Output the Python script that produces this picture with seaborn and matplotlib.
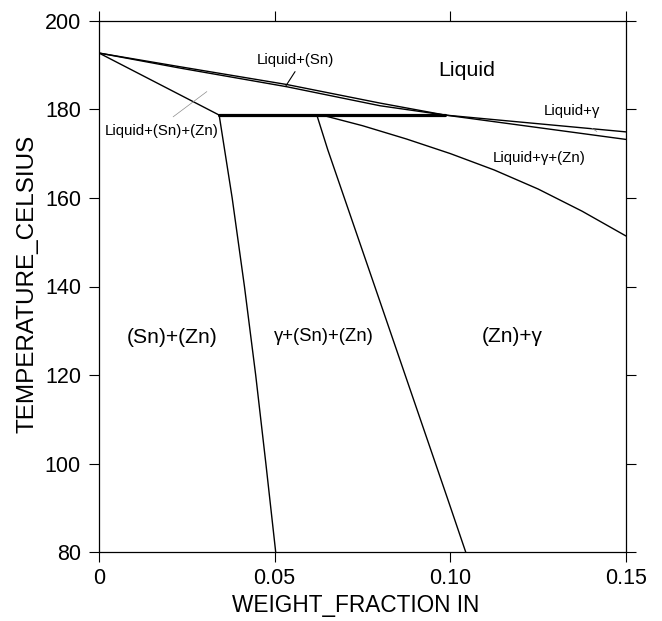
import matplotlib
matplotlib.use("Agg")
import matplotlib.pyplot as plt
import seaborn as sns
import pandas as pd

# ---- data (weight fraction In, temperature in Celsius) ----
liquidus_x = [0.0, 0.0231, 0.0534, 0.080, 0.0985]
liquidus_upper_T = [192.7, 189.6, 185.6, 181.4, 178.7]
liquidus_lower_T = [192.7, 189.3, 185.1, 180.8, 178.7]

liq_gamma_x = [0.0985, 0.15]
liq_gamma_upper_T = [178.7, 174.9]
liq_gamma_lower_T = [178.7, 173.2]

sn_liq_x = [0.0, 0.0342]
sn_liq_T = [192.7, 178.7]

eutectic_x = [0.0342, 0.0985]
eutectic_T = [178.7, 178.7]

sn_zn_x = [0.0342, 0.0379, 0.0414, 0.0446, 0.0475, 0.0503]
sn_zn_T = [178.7, 160.0, 140.0, 120.0, 100.0, 80.0]

gamma_sn_zn_x = [0.062, 0.0651, 0.0798, 0.0993, 0.1044]
gamma_sn_zn_T = [178.7, 170.9, 137.0, 91.9, 80.0]

liq_gamma_zn_x = [0.0634, 0.075, 0.0875, 0.100, 0.1125, 0.125, 0.1375, 0.15]
liq_gamma_zn_T = [178.7, 176.3, 173.3, 170.0, 166.3, 162.0, 157.0, 151.4]

leader_sn_x = [0.0558, 0.0532]
leader_sn_T = [188.5, 185.3]
leader_snzn_x = [0.0211, 0.0307]
leader_snzn_T = [178.3, 184.0]
leader_gamma_x = [0.1403, 0.1417]
leader_gamma_T = [175.7, 175.0]

region_labels = ["Liquid", "Liquid+(Sn)", "Liquid+(Sn)+(Zn)", "Liquid+γ",
                 "Liquid+γ+(Zn)", "(Sn)+(Zn)", "γ+(Sn)+(Zn)", "(Zn)+γ"]
label_x = [0.1047, 0.0559, 0.0179, 0.1346, 0.1254, 0.0208, 0.0639, 0.1177]
label_T = [187.6, 190.2, 174.2, 178.7, 168.2, 127.2, 127.8, 127.5]
label_size = [15.4, 10.8, 10.8, 10.8, 10.8, 15.2, 13.3, 15.0]

x_ticks = [0.0, 0.05, 0.10, 0.15]
x_ticklabels = ["0", "0.05", "0.10", "0.15"]
y_ticks = [80, 100, 120, 140, 160, 180, 200]

# ---- styling ----
sns.set_style("ticks")
plt.rcParams["font.family"] = ["Liberation Sans", "DejaVu Sans"]

fig = plt.figure(figsize=(6.62, 6.21), dpi=100)
ax = fig.add_axes([99 / 662, 1 - 552.3 / 621, (626 - 99) / 662, (552.3 - 20.7) / 621])


def draw(xs, ys, lw=1.0, color="black"):
    df = pd.DataFrame({"x": xs, "T": ys})
    sns.lineplot(data=df, x="x", y="T", sort=False, estimator=None,
                 color=color, linewidth=lw, ax=ax)


draw(liquidus_x, liquidus_upper_T, 1.0)
draw(liquidus_x, liquidus_lower_T, 1.0)
draw(liq_gamma_x, liq_gamma_upper_T, 1.0)
draw(liq_gamma_x, liq_gamma_lower_T, 1.0)
draw(sn_liq_x, sn_liq_T, 1.0)
draw(eutectic_x, eutectic_T, 2.3)
draw(sn_zn_x, sn_zn_T, 1.0)
draw(gamma_sn_zn_x, gamma_sn_zn_T, 1.0)
draw(liq_gamma_zn_x, liq_gamma_zn_T, 1.0)
draw(leader_sn_x, leader_sn_T, 0.8)
draw(leader_snzn_x, leader_snzn_T, 0.5, "#8c8c8c")
draw(leader_gamma_x, leader_gamma_T, 0.5, "#8c8c8c")

for txt, lx, lt, fs in zip(region_labels, label_x, label_T, label_size):
    ax.text(lx, lt, txt, ha="center", va="baseline", fontsize=fs, color="black")

ax.set_xlim(0, 0.15)
ax.set_ylim(80, 200)
ax.set_xticks(x_ticks)
ax.set_xticklabels(x_ticklabels)
ax.set_yticks(y_ticks)
ax.tick_params(axis="both", which="major", direction="out", length=7, width=0.8,
               top=True, right=True, labeltop=False, labelright=False,
               labelsize=15.5, colors="black")
ax.tick_params(axis="x", pad=4)
ax.tick_params(axis="y", pad=6)
for s in ax.spines.values():
    s.set_visible(True)
    s.set_linewidth(0.9)
    s.set_color("black")

ax.set_xlabel("WEIGHT_FRACTION IN", fontsize=16.3, va="top", color="black")
ax.xaxis.set_label_coords(0.488, -0.078)
ax.set_ylabel("TEMPERATURE_CELSIUS", fontsize=17.5, va="center", color="black")
ax.yaxis.set_label_coords(-0.135, 0.505)

fig.savefig("out.png", dpi=100)
